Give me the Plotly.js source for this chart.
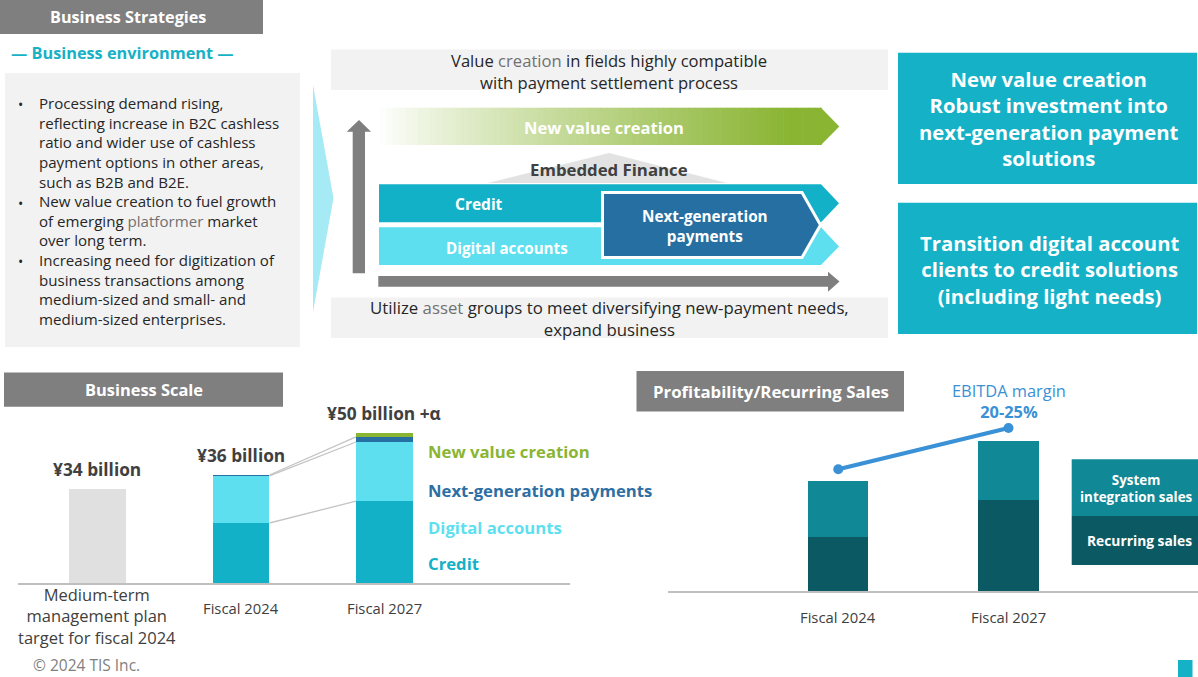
<!DOCTYPE html>
<html><head><meta charset="utf-8">
<script src="https://cdn.plot.ly/plotly-3.0.1.min.js"></script>
<style>html,body{margin:0;padding:0;background:#fff;overflow:hidden}#chart{width:1198px;height:677px}</style>
</head><body><div id="chart"></div>
<script>
// ---------- Business Scale chart data (¥ billion, bar heights) ----------
const scaleCategories = ['Medium-term<br>management plan<br>target for fiscal 2024', 'Fiscal 2024', 'Fiscal 2027'];
const scaleValueLabels = ['¥34 billion', '¥36 billion', '¥50 billion +α'];
const targetSales   = [31.3, null, null];
const creditSales   = [null, 20.0, 27.3];
const digitalSales  = [null, 15.7, 19.7];
const nextGenSales  = [null, 0.3, 1.7];
const newValueSales = [null, 0.0, 1.3];
const segmentNames  = ['New value creation', 'Next-generation payments', 'Digital accounts', 'Credit'];

// ---------- Profitability / Recurring Sales chart data (relative index) ----------
const profitCategories = ['Fiscal 2024', 'Fiscal 2027'];
const recurringSales   = [49.1, 82.7];
const siSales          = [50.9, 53.6];
const ebitdaMargin     = [16.8, 22.5];
const profitSeriesNames = ['System<br>integration sales', 'Recurring sales'];

// ---------- Diagram texts ----------
const envBullets = [
  'Processing demand rising,<br>reflecting increase in B2C cashless<br>ratio and wider use of cashless<br>payment options in other areas,<br>such as B2B and B2E.',
  'New value creation to fuel growth<br>of emerging <span style="color:#707070">platformer</span> market<br>over long term.',
  'Increasing need for digitization of<br>business transactions among<br>medium-sized and small- and<br>medium-sized enterprises.'
];

const W = 1198, H = 677;
const FONT = '"Open Sans", "Noto Sans", sans-serif';
const DARK = '#404040';
const C_CREDIT = '#13b1c7', C_DIGITAL = '#5ddfef', C_NEXT = '#266fa2', C_NEW = '#8ab533';
const C_SI = '#108896', C_REC = '#0b5a63', C_EBITDA = '#3a91d6', C_BOX = '#14b1c7', C_HEAD = '#7f7f7f';

const px = x => x / W, py = y => 1 - y / H;
const shapes = [], annotations = [];
function rect(x0, y0, x1, y1, fill, line) {
  shapes.push({type:'rect', xref:'paper', yref:'paper', x0:px(x0), x1:px(x1), y0:py(y1), y1:py(y0),
    fillcolor:fill, line: line || {width:0}, layer:'below'});
}
function poly(pts, fill, line, layer) {
  const d = pts.map((p, i) => (i ? 'L' : 'M') + px(p[0]) + ',' + py(p[1])).join(' ') + ' Z';
  shapes.push({type:'path', xref:'paper', yref:'paper', path:d, fillcolor:fill, line: line || {width:0}, layer: layer || 'below'});
}
function txt(text, x, y, size, color, opts) {
  annotations.push(Object.assign({text:text, xref:'paper', yref:'paper', x:px(x), y:py(y), xanchor:'center', yanchor:'middle',
    showarrow:false, font:{family:FONT, size:size, color:color}}, opts || {}));
}

// ---------- Top section ----------
rect(0, 0, 263, 34, C_HEAD);
txt('<b>Business Strategies</b>', 128, 17, 16.2, '#ffffff');
txt('<b>― Business environment ―</b>', 122, 53, 16.3, '#17b1c6');
rect(5, 73, 300, 347, '#f2f2f2');
// bullets
const bulletY = [105, 203, 261];
bulletY.forEach(y => txt('•', 20, y, 14, '#262626'));
txt(envBullets.join('<br>'), 37, 211, 15.1, '#262626', {xanchor:'left', align:'left'});

// big light chevron
poly([[313, 85], [333.5, 198], [313, 312]], '#a6eaf5');

// top & bottom grey boxes
rect(331, 49.5, 888, 90, '#f2f2f2');
txt('Value <span style="color:#707070">creation</span> in fields highly compatible<br>with payment settlement process', 609, 71, 16.6, '#262626');
rect(331, 297.5, 888, 338, '#f2f2f2');
txt('Utilize <span style="color:#707070">asset</span> groups to meet diversifying new-payment needs,<br>expand business', 609, 318.5, 16.8, '#262626');

// up arrow and right arrow
poly([[352.7, 273.3], [352.7, 131.7], [346.7, 131.7], [359, 120], [371, 131.7], [365, 131.7], [365, 273.3]], '#7f7f7f');
poly([[378.3, 276], [828, 276], [828, 271.7], [839.5, 281.5], [828, 291.7], [828, 286.7], [378.3, 286.7]], '#7f7f7f');

// gradient "New value creation" arrow
(function(){
  const x0 = 380, x1 = 821, xFull = 790, N = 70;
  const c0 = [255, 255, 255], c1 = [138, 181, 51];
  for (let i = 0; i < N; i++) {
    const a = x0 + (x1 - x0) * i / N, b = x0 + (x1 - x0) * (i + 1) / N + 0.6;
    let t = Math.min(1, ((a + b) / 2 - x0) / (xFull - x0));
    t = Math.pow(t, 0.85);
    const c = c0.map((v, k) => Math.round(v + (c1[k] - v) * t));
    rect(a, 107.7, b, 145, 'rgb(' + c.join(',') + ')');
  }
  poly([[820.5, 107.7], [821, 107.7], [839.3, 126.5], [821, 145], [820.5, 145]], 'rgb(138,181,51)');
})();
txt('<b>New value creation</b>', 604, 127, 16.5, '#ffffff');

// Embedded finance
poly([[488, 183], [609, 153], [727, 183]], '#e2e2e2');
txt('<b>Embedded Finance</b>', 608.5, 169, 16.8, DARK);

// Credit & Digital arrows
poly([[379, 184.3], [821, 184.3], [839, 203.3], [821, 222.3], [379, 222.3]], C_CREDIT);
poly([[379, 227.3], [821, 227.3], [839, 246.5], [821, 265], [379, 265]], C_DIGITAL);
txt('<b>Credit</b>', 479, 204.3, 15.5, '#ffffff');
txt('<b>Digital accounts</b>', 506.7, 247.7, 15.2, '#ffffff');
// Next-generation payments
poly([[602.5, 192.5], [802, 192.5], [820.5, 225], [802, 257.5], [602.5, 257.5]], C_NEXT, {color:'#ffffff', width:3});
txt('<b>Next-generation<br>payments</b>', 705, 226.3, 15.3, '#ffffff');

// right boxes
rect(898, 52.7, 1197, 184, C_BOX);
txt('<b>New value creation<br>Robust investment into<br>next-generation payment<br>solutions</b>', 1049, 118.3, 20.3, '#ffffff');
rect(898, 202.7, 1197, 334, C_BOX);
txt('<b>Transition digital account<br>clients to credit solutions<br>(including light needs)</b>', 1049, 269, 20.3, '#ffffff');

// ---------- Bottom headers ----------
rect(4, 372.5, 283, 406.7, C_HEAD);
txt('<b>Business Scale</b>', 144, 389.5, 16.4, '#ffffff');
rect(636.5, 371, 904, 411.5, C_HEAD);
txt('<b>Profitability/Recurring Sales</b>', 771, 391, 16.8, '#ffffff');

// Business scale legend labels
const segColors = [C_NEW, '#2e6fa3', C_DIGITAL, C_CREDIT];
const segLabelY = [452, 490, 527, 563];
segmentNames.forEach((n, i) => txt('<b>' + n + '</b>', 426, segLabelY[i], 16.7, segColors[i], {xanchor:'left'}));

// Profit legend boxes
rect(1071.7, 459.3, 1199, 516, C_SI);
rect(1071.7, 516, 1199, 565, C_REC);
txt('<b>' + profitSeriesNames[0] + '</b>', 1136, 488, 13.4, '#ffffff');
txt('<b>' + profitSeriesNames[1] + '</b>', 1139, 540, 13.8, '#ffffff');

// footer
txt('© 2024 TIS Inc.', 86.5, 665, 15.5, '#808080');
rect(1178, 660, 1192.5, 677, C_BOX);

// ---------- Traces ----------
const idxS = scaleCategories.map((_, i) => i);
const idxP = profitCategories.map((_, i) => i);
const BW1 = 0.397, BW2 = 0.355;
function bar(y, color, xs, xa, ya, w) {
  return {type:'bar', x:xs, y:y, xaxis:xa, yaxis:ya, width:w, marker:{color:color, line:{width:0}}, hoverinfo:'skip', showlegend:false};
}
const traces = [
  bar(targetSales, '#e0e0e0', idxS, 'x', 'y', BW1),
  bar(creditSales, C_CREDIT, idxS, 'x', 'y', BW1),
  bar(digitalSales, C_DIGITAL, idxS, 'x', 'y', BW1),
  bar(nextGenSales, C_NEXT, idxS, 'x', 'y', BW1),
  bar(newValueSales, C_NEW, idxS, 'x', 'y', BW1),
  bar(recurringSales, C_REC, idxP, 'x2', 'y2', BW2),
  bar(siSales, C_SI, idxP, 'x2', 'y2', BW2),
  {type:'scatter', mode:'lines+markers', x:idxP, y:ebitdaMargin, xaxis:'x2', yaxis:'y3', cliponaxis:false,
   line:{color:C_EBITDA, width:4}, marker:{color:C_EBITDA, size:10}, hoverinfo:'skip', showlegend:false}
];

// totals & connectors for business-scale chart
const totals = idxS.map(i => [targetSales, creditSales, digitalSales, nextGenSales, newValueSales]
  .reduce((s, arr) => s + (arr[i] || 0), 0));
idxS.forEach(i => annotations.push({text:'<b>' + scaleValueLabels[i] + '</b>', xref:'x', yref:'y', x:i, y:totals[i],
  xanchor:'center', yanchor:'bottom', yshift:6, showarrow:false, font:{family:FONT, size:17.3, color:DARK}}));
const cum = (i, k) => [creditSales, digitalSales, nextGenSales, newValueSales].slice(0, k).reduce((s, a) => s + (a[i] || 0), 0);
[[1, 1], [2, 2], [3, 3]].forEach(([k1, k2]) => {
  shapes.push({type:'line', xref:'x', yref:'y', x0:1 + BW1 / 2, y0:cum(1, k1), x1:2 - BW1 / 2, y1:cum(2, k2),
    line:{color:'#c4c4c4', width:1.3}});
});
// category labels
const catY = [616, 608, 608], catSize = [16.5, 14.8, 14.8];
idxS.forEach(i => annotations.push({text:scaleCategories[i], xref:'x', yref:'paper', x:i, y:py(catY[i]),
  xanchor:'center', yanchor:'middle', showarrow:false, font:{family:FONT, size:catSize[i], color:DARK}}));
idxP.forEach(i => annotations.push({text:profitCategories[i], xref:'x2', yref:'paper', x:i, y:py(616.7),
  xanchor:'center', yanchor:'middle', showarrow:false, font:{family:FONT, size:14.8, color:DARK}}));
annotations.push({text:'EBITDA margin<br><b>20-25%</b>', xref:'x2', yref:'y3', x:1, y:ebitdaMargin[1],
  xanchor:'center', yanchor:'bottom', yshift:3, showarrow:false, font:{family:FONT, size:16.4, color:C_EBITDA}});

const layout = {
  width:W, height:H, margin:{l:0, r:0, t:0, b:0}, paper_bgcolor:'#ffffff', plot_bgcolor:'rgba(0,0,0,0)',
  barmode:'stack', bargap:0, hovermode:false, showlegend:false, font:{family:FONT},
  xaxis:{domain:[18 / W, 570 / W], range:[-0.554, 3.293], showgrid:false, zeroline:false, showticklabels:false,
    ticks:'', showline:true, linecolor:'#bfbfbf', linewidth:1.5, fixedrange:true, anchor:'y'},
  yaxis:{domain:[(H - 583) / H, (H - 400) / H], range:[0, 61], visible:false, fixedrange:true, anchor:'x'},
  xaxis2:{domain:[668 / W, 1], range:[-1.0, 2.113], showgrid:false, zeroline:false, showticklabels:false,
    ticks:'', showline:true, linecolor:'#bfbfbf', linewidth:1.5, fixedrange:true, anchor:'y2'},
  yaxis2:{domain:[(H - 591) / H, (H - 420) / H], range:[0, 155.45], visible:false, fixedrange:true, anchor:'x2'},
  yaxis3:{overlaying:'y2', range:[0, 23.6], visible:false, fixedrange:true, anchor:'x2'},
  shapes:shapes, annotations:annotations
};
Plotly.newPlot('chart', traces, layout, {displayModeBar:false, staticPlot:true});
</script></body></html>
